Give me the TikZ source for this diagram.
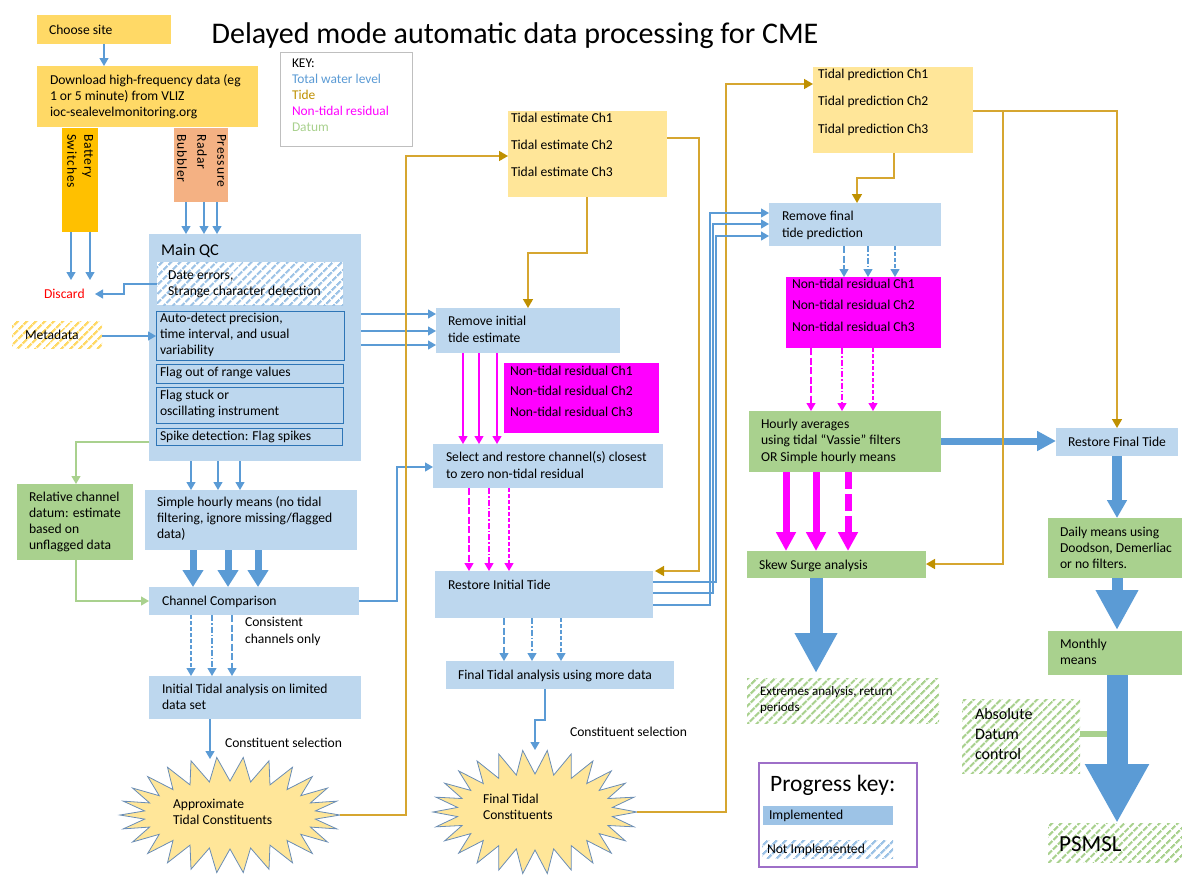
\documentclass[tikz,border=0pt]{standalone}
\usepackage{fontspec}
\setmainfont{Carlito}
\usetikzlibrary{arrows.meta,patterns.meta}
\definecolor{lblue}{HTML}{BDD7EE}
\definecolor{mblue}{HTML}{9DC3E6}
\definecolor{lnblue}{HTML}{5B9BD5}
\definecolor{dblue}{HTML}{2E75B6}
\definecolor{lorange}{HTML}{FFD966}
\definecolor{amber}{HTML}{FFC000}
\definecolor{salmon}{HTML}{F4B183}
\definecolor{pyellow}{HTML}{FFE699}
\definecolor{mag}{HTML}{FF00FF}
\definecolor{lgreen}{HTML}{A9D18E}
\definecolor{gold}{HTML}{BF9000}
\definecolor{goldl}{HTML}{D6A630}
\definecolor{purp}{HTML}{9E6FC8}
\definecolor{keygray}{HTML}{BFBFBF}
\definecolor{starline}{HTML}{6A8DB5}
\newcommand\mkbox[6]{\node[bx,#6,minimum width={#4-#2},minimum height={#5-#3}] (#1) at (#2,#3) {};}
\newcommand\starb[5]{\draw[starst] ({#1+#3},#2) \foreach \k in {0,...,25}{ -- ({#1+(#3-#5)*cos(\k*360/26+180/26)},{#2+(#4-#5)*sin(\k*360/26+180/26)}) -- ({#1+#3*cos(\k*360/26+360/26)},{#2+#4*sin(\k*360/26+360/26)}) } -- cycle;}
\tikzset{
 bx/.style={inner sep=0pt,outer sep=0pt,anchor=north west,rectangle},
 tx/.style={inner sep=0pt,outer sep=0pt,anchor=north west,align=left,font=\fontsize{13.6}{16}\selectfont,execute at begin node={\rule{0pt}{10.5pt}}},
 subbox/.style={draw=dblue,line width=1pt,fill=lblue},
 hatchB/.style={preaction={fill=white},pattern={Lines[angle=45,distance=6.5pt,line width=2.4pt]},pattern color=mblue},
 hatchG/.style={preaction={fill=white},pattern={Lines[angle=45,distance=6.5pt,line width=2.4pt]},pattern color=lgreen},
 hatchO/.style={preaction={fill=white},pattern={Lines[angle=45,distance=6.5pt,line width=2.4pt]},pattern color=lorange},
 starst/.style={draw=starline,line width=0.8pt,fill=pyellow},
 bl/.style={draw=lnblue,line width=1.2pt,-{Triangle[width=9pt,length=8pt]}},
 gl/.style={draw=lgreen,line width=1.2pt,-{Triangle[width=9pt,length=8pt]}},
 ml/.style={draw=mag,line width=1.2pt,-{Triangle[width=9pt,length=8pt]}},
 gd/.style={draw=goldl,line width=1.5pt,-{Triangle[width=10pt,length=9pt,color=gold]}},
 da/.style={dash pattern=on 4pt off 2pt},
 db/.style={dash pattern=on 6pt off 2pt on 1.5pt off 2pt},
 dc/.style={dash pattern=on 7pt off 2.5pt},
}
\begin{document}
\begin{tikzpicture}[x=1pt,y=-1pt]
\useasboundingbox (0,0) rectangle (1182,878);

% title
\node[font=\fontsize{30}{34}\selectfont,inner sep=0pt] (title) at (515,36) {Delayed mode automatic data processing for CME};

% key
\mkbox{key}{280}{52}{412}{146}{draw=keygray,line width=0.8pt,fill=white}
\node[tx,font=\fontsize{13.4}{16}\selectfont] (keyt) at (292,58.5) {KEY:\\\textcolor{lnblue}{Total water level}\\\textcolor{gold}{Tide}\\\textcolor{mag}{Non-tidal residual}\\\textcolor{lgreen}{Datum}};

% left column
\mkbox{choose}{37}{15}{171}{44}{fill=lorange}
\node[tx] (chooset) at (49,24) {Choose site};
\mkbox{download}{37}{66}{258}{127}{fill=lorange}
\node[tx] (downloadt) at (50,75) {Download high-frequency data (eg\\1 or 5 minute) from VLIZ\\ioc-sealevelmonitoring.org};
\mkbox{battery}{62}{128}{98}{232}{fill=amber}
\node[tx,rotate=-90,font=\fontsize{13.6}{17}\selectfont\addfontfeature{LetterSpace=6}] (batteryt) at (93,134) {Battery\\Switches};
\mkbox{pressure}{174}{128}{228}{202}{fill=salmon}
\node[tx,rotate=-90,font=\fontsize{13.6}{20}\selectfont\addfontfeature{LetterSpace=6}] (pressuret) at (226,134) {Pressure\\Radar\\Bubbler};

\mkbox{qc}{149}{234}{361}{461}{fill=lblue}
\node[inner sep=0pt,anchor=base west,font=\fontsize{16.4}{19}\selectfont] (qct) at (161,255) {Main QC};
\mkbox{date}{157}{262}{343}{305}{hatchB}
\node[tx] (datet) at (168,271) {Date errors,\\Strange character detection};
\mkbox{auto}{156}{311}{344}{360}{subbox}
\node[tx] (autot) at (160,313) {Auto-detect precision,\\time interval, and usual\\variability};
\mkbox{frange}{156}{364}{343}{383}{subbox}
\node[tx] (franget) at (160,366) {Flag out of range values};
\mkbox{fstuck}{156}{387}{343}{423}{subbox}
\node[tx] (fstuckt) at (160,390) {Flag stuck or\\oscillating instrument};
\mkbox{spike}{156}{428}{342}{445}{subbox}
\node[tx] (spiket) at (160,430) {Spike detection: Flag spikes};

\mkbox{meta}{12}{321}{102}{348}{hatchO}
\node[tx] (metat) at (25,329) {Metadata};
\node[tx,text=red] (discard) at (44,288) {Discard};

\mkbox{rel}{17}{484}{133}{560}{fill=lgreen}
\node[tx] (relt) at (29,492) {Relative channel\\datum: estimate\\based on\\unflagged data};
\mkbox{simple}{145}{490}{357}{550}{fill=lblue}
\node[tx] (simplet) at (157,497) {Simple hourly means (no tidal\\filtering, ignore missing/flagged\\data)};
\mkbox{cc}{149}{587}{359}{615}{fill=lblue}
\node[tx] (cct) at (162,595) {Channel Comparison};
\node[tx,font=\fontsize{13.6}{17}\selectfont] (consist) at (245,617) {Consistent\\channels only};
\mkbox{init}{149}{676}{361}{719}{fill=lblue}
\node[tx] (initt) at (162,684) {Initial Tidal analysis on limited\\data set};
\node[tx] (csel1) at (225,737) {Constituent selection};
\starb{230}{815}{110}{58}{24}
\node[tx] (astar) at (173,799) {Approximate\\Tidal Constituents};
\coordinate (astarN) at (210,759);
\coordinate (astarE) at (340,815);

% middle column
\mkbox{te}{508}{111}{667}{197}{fill=pyellow}
\node[tx,font=\fontsize{13.6}{27}\selectfont] (tet) at (511,113) {Tidal estimate Ch1\\Tidal estimate Ch2\\Tidal estimate Ch3};
\mkbox{remi}{436}{308}{620}{353}{fill=lblue}
\node[tx,font=\fontsize{13.6}{17}\selectfont] (remit) at (448,316) {Remove initial\\tide estimate};
\mkbox{ntr1}{504}{363}{659}{433}{fill=mag}
\node[tx,font=\fontsize{13.6}{20.5}\selectfont] (ntr1t) at (510,366) {Non-tidal residual Ch1\\Non-tidal residual Ch2\\Non-tidal residual Ch3};
\mkbox{select}{433}{444}{663}{488}{fill=lblue}
\node[tx,font=\fontsize{13.6}{17}\selectfont] (selectt) at (446,452) {Select and restore channel(s) closest\\to zero non-tidal residual};
\mkbox{ri}{435}{571}{653}{618}{fill=lblue}
\node[tx] (rit) at (448,579) {Restore Initial Tide};
\mkbox{fa}{446}{661}{674}{689}{fill=lblue}
\node[tx] (fat) at (458,669) {Final Tidal analysis using more data};
\node[tx] (csel2) at (570,726) {Constituent selection};
\starb{535}{812}{102}{62}{24}
\node[tx] (fstar) at (483,794) {Final Tidal\\Constituents};
\coordinate (fstarN) at (535,750);
\coordinate (fstarE) at (637,812);

% right column
\mkbox{tp}{813}{67}{973}{153}{fill=pyellow}
\node[tx,font=\fontsize{13.6}{27.5}\selectfont] (tpt) at (818,69) {Tidal prediction Ch1\\Tidal prediction Ch2\\Tidal prediction Ch3};
\mkbox{remf}{769}{203}{941}{246}{fill=lblue}
\node[tx,font=\fontsize{13.6}{17}\selectfont] (remft) at (782,211) {Remove final\\tide prediction};
\mkbox{ntr2}{786}{277}{941}{348}{fill=mag}
\node[tx,font=\fontsize{13.6}{21.5}\selectfont] (ntr2t) at (792,279) {Non-tidal residual Ch1\\Non-tidal residual Ch2\\Non-tidal residual Ch3};
\mkbox{hourly}{749}{411}{941}{472}{fill=lgreen}
\node[tx,font=\fontsize{13.6}{16.5}\selectfont] (hourlyt) at (761,419) {Hourly averages\\using tidal “Vassie” filters\\OR Simple hourly means};
\mkbox{skew}{747}{551}{926}{578}{fill=lgreen}
\node[tx] (skewt) at (759,559) {Skew Surge analysis};
\mkbox{ext}{747}{678}{939}{723}{hatchG}
\node[tx,font=\fontsize{13}{16}\selectfont] (extt) at (760,686.5) {Extremes analysis, return\\periods};
\mkbox{rf}{1056}{428}{1178}{456}{fill=lblue}
\node[inner sep=0pt,font=\fontsize{13.6}{16}\selectfont] (rft) at (1117,442) {Restore Final Tide};
\mkbox{daily}{1048}{518}{1182}{578}{fill=lgreen}
\node[tx] (dailyt) at (1060,527) {Daily means using\\Doodson, Demerliac\\or no filters.};
\mkbox{monthly}{1048}{631}{1182}{675}{fill=lgreen}
\node[tx] (monthlyt) at (1060,639) {Monthly\\means};
\mkbox{abs}{962}{699}{1080}{773}{hatchG}
\node[tx,font=\fontsize{16}{20}\selectfont] (abst) at (975,708.5) {Absolute\\Datum\\control};
\mkbox{psmsl}{1048}{823}{1182}{862}{hatchG}
\node[inner sep=0pt,anchor=base west,font=\fontsize{23}{26}\selectfont] (psmslt) at (1059,851) {PSMSL};

% progress key
\mkbox{pk}{759}{763}{917}{867}{draw=purp,line width=1.2pt,fill=white}
\node[inner sep=0pt,anchor=base west,font=\fontsize{23.5}{26}\selectfont] (pkt) at (770,791) {Progress key:};
\mkbox{impl}{763}{806}{893}{825}{fill=mblue}
\node[tx] (implt) at (769,809) {Implemented};
\mkbox{nimpl}{762}{840}{893}{858}{hatchB}
\node[tx] (nimplt) at (767,843) {Not Implemented};

% ---------- connectors ----------
\coordinate (dis1) at (71,280);
\coordinate (dis2) at (90,280);
\coordinate (disE) at (95,294);
\draw[bl] (104,0 |- choose.south) -- (104,0 |- download.north);
\draw[bl] (71,0 |- battery.south) -- (dis1);
\draw[bl] (90,0 |- battery.south) -- (dis2);
\foreach \xx in {186,204,217} {\draw[bl] (\xx,0 |- pressure.south) -- (\xx,0 |- qc.north);}
\draw[bl] (date.west |- 0,284) -- (124,284) -- (124,294) -- (disE);
\draw[bl] (meta.east |- 0,336) -- (auto.west |- 0,336);
\foreach \yy in {314,331,345} {\draw[bl] (qc.east |- 0,\yy) -- (remi.west |- 0,\yy);}
\draw[gl] (qc.west |- 0,442) -| (76,0 |- rel.north);
\foreach \xx in {191,218,240} {\draw[bl] (\xx,0 |- qc.south) -- (\xx,0 |- simple.north);}
\foreach \xx in {193,228,258} {\draw[draw=lnblue,line width=7pt,-{Triangle[width=20pt,length=17pt]}] (\xx,0 |- simple.south) -- (\xx,0 |- cc.north);}
\draw[gl] (76,0 |- rel.south) |- (cc.west |- 0,601);
\draw[bl] (cc.east |- 0,601) -- (397,601) |- (select.west |- 0,467);
\draw[bl,da] (191,0 |- cc.south) -- (191,0 |- init.north);
\draw[bl,db] (212,0 |- cc.south) -- (212,0 |- init.north);
\draw[bl,dc] (232,0 |- cc.south) -- (232,0 |- init.north);
\draw[bl] (210,0 |- init.south) -- (astarN);
\draw[gd] (astarE) -- (406,815) |- (te.west |- 0,156);
\draw[gd] (587,0 |- te.south) -- (587,253) -| (528,0 |- remi.north);
\draw[gd] (te.east |- 0,138) -- (699,138) |- ([xshift=2pt]ri.east |- 0,571);
\foreach \xx in {463,479,497} {\draw[ml] (\xx,0 |- remi.south) -- (\xx,0 |- select.north);}
\draw[ml,dc] (469,0 |- select.south) -- (469,0 |- ri.north);
\draw[ml,db] (489,0 |- select.south) -- (489,0 |- ri.north);
\draw[ml,da] (509,0 |- select.south) -- (509,0 |- ri.north);
\draw[bl,dc] (504,0 |- ri.south) -- (504,0 |- fa.north);
\draw[bl,db] (532,0 |- ri.south) -- (532,0 |- fa.north);
\draw[bl,da] (561,0 |- ri.south) -- (561,0 |- fa.north);
\draw[bl] (545,0 |- fa.south) -- (545,720) -- (535,720) -- (fstarN);
\draw[gd] (fstarE) -- (726,812) |- (tp.west |- 0,84);
\draw[gd] (894,0 |- tp.south) -- (894,178) -| (857,0 |- remf.north);
\draw[bl] (ri.east |- 0,605) -- (710,605) |- (remf.west |- 0,213);
\draw[bl] (ri.east |- 0,593) -- (713,593) |- (remf.west |- 0,224);
\draw[bl] (ri.east |- 0,582) -- (716,582) |- (remf.west |- 0,236);
\draw[bl,dc] (844,0 |- remf.south) -- (844,0 |- ntr2.north);
\draw[bl,db] (868,0 |- remf.south) -- (868,0 |- ntr2.north);
\draw[bl,da] (895,0 |- remf.south) -- (895,0 |- ntr2.north);
\draw[ml,dc] (811,0 |- ntr2.south) -- (811,0 |- hourly.north);
\draw[ml,db] (842,0 |- ntr2.south) -- (842,0 |- hourly.north);
\draw[ml,da] (873,0 |- ntr2.south) -- (873,0 |- hourly.north);
\draw[draw=mag,line width=7pt,-{Triangle[width=19pt,length=19pt]}] (786,0 |- hourly.south) -- (786,0 |- skew.north);
\draw[draw=mag,line width=7pt,-{Triangle[width=19pt,length=19pt]}] (816,0 |- hourly.south) -- (816,0 |- skew.north);
\draw[draw=mag,line width=7pt,dash pattern=on 17pt off 5pt,-{Triangle[width=19pt,length=19pt]}] (848,0 |- hourly.south) -- (848,0 |- skew.north);
\draw[draw=lnblue,line width=7pt,-{Triangle[width=19pt,length=19pt]}] (hourly.east |- 0,441) -- (rf.west |- 0,441);
\draw[draw=lnblue,line width=13pt,-{Triangle[width=40pt,length=40pt]}] (816,0 |- skew.south) -- ([yshift=5pt]816,0 |- ext.north);
\coordinate (tpj) at (1003,111);
\draw[gd] (tp.east |- 0,111) -- (1117,111) -- (1117,0 |- rf.north);
\draw[gd] (tpj) -- (1003,564) -- (skew.east |- 0,564);
\draw[draw=lnblue,line width=10pt,-{Triangle[width=19pt,length=18pt]}] (1117,0 |- rf.south) -- (1117,0 |- daily.north);
\draw[draw=lnblue,line width=11pt,-{Triangle[width=40pt,length=40pt]}] (1117,0 |- daily.south) -- ([yshift=1pt]1117,0 |- monthly.north);
\draw[draw=lgreen,line width=6pt] (abs.east |- 0,734) -- (1108,734);
\draw[draw=lnblue,line width=21pt,-{Triangle[width=60pt,length=59pt]}] (1117,0 |- monthly.south) -- (1117,0 |- psmsl.north);
\end{tikzpicture}
\end{document}
